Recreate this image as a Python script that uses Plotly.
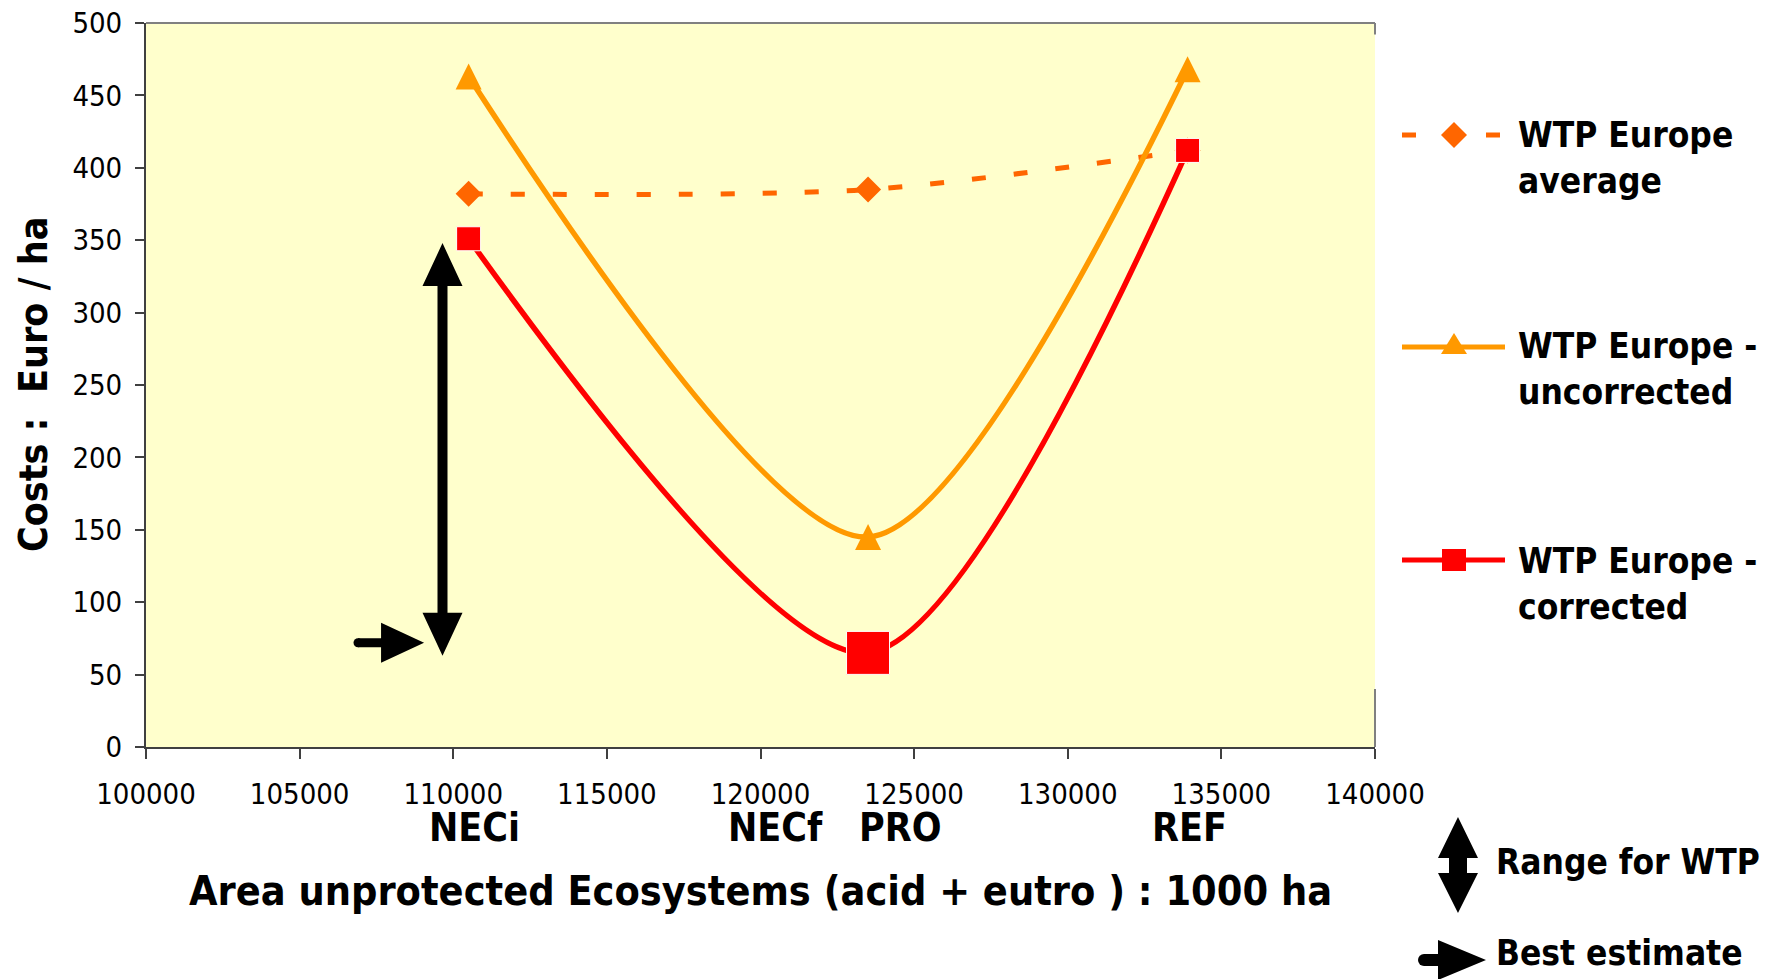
import plotly.graph_objects as go

# ---- data -------------------------------------------------------------
area_x = [110500, 123500, 133900]          # area unprotected ecosystems (1000 ha)
wtp_average = [382, 385, 412]              # Euro/ha
wtp_uncorrected = [463, 145, 468]
wtp_corrected = [351, 65, 412]
corrected_marker_size = [24, 43, 24]       # best estimate (PRO) drawn larger

scenario_names = ["NECi", "NECf", "PRO", "REF"]
scenario_label_x = [110700, 120500, 124550, 133950]

wtp_range = [63, 348]          # range for WTP (vertical double arrow)
range_arrow_x = 109650
best_estimate = 72             # best estimate (horizontal arrow)
best_estimate_x = [106900, 109050]

x_range = [100000, 140000]
y_range = [0, 500]
x_ticks = list(range(100000, 140001, 5000))
y_ticks = list(range(0, 501, 50))

# ---- layout geometry (pixels) ------------------------------------------
W, H = 1766, 979
PX0, PX1 = 146, 1375
PY0, PY1 = 23, 747

XS = (PX1 - PX0) / (x_range[1] - x_range[0])   # px per x unit
YS = (PY1 - PY0) / (y_range[1] - y_range[0])   # px per y unit


def px(x):
    return x / W


def py(y):
    return 1 - y / H


C_AVG = "#FF6600"
C_UNC = "#FF9900"
C_COR = "#FF0000"
TXT_BOLD = "DejaVu Sans Condensed, DejaVu Sans, sans-serif"
TXT_REG = "DejaVu Sans Condensed, DejaVu Sans, sans-serif"
SMOOTH = 0.8

fig = go.Figure()

fig.add_trace(go.Scatter(
    x=area_x, y=wtp_average, mode="lines+markers", name="WTP Europe average",
    line=dict(color=C_AVG, width=5, dash="14px,28px", shape="spline", smoothing=SMOOTH),
    marker=dict(symbol="diamond", size=20, color=C_AVG, opacity=1),
    cliponaxis=False,
))
fig.add_trace(go.Scatter(
    x=area_x, y=wtp_uncorrected, mode="lines+markers", name="WTP Europe - uncorrected",
    line=dict(color=C_UNC, width=5.5, shape="spline", smoothing=SMOOTH),
    marker=dict(symbol="arrow-down", angle=180, size=26, standoff=13, color=C_UNC, opacity=1),
    cliponaxis=False,
))
fig.add_trace(go.Scatter(
    x=area_x, y=wtp_corrected, mode="lines+markers", name="WTP Europe - corrected",
    line=dict(color=C_COR, width=5.5, shape="spline", smoothing=SMOOTH),
    marker=dict(symbol="square", size=corrected_marker_size, color=C_COR, opacity=1),
    cliponaxis=False,
))

shapes = []

# plot-area frame pieces
shapes.append(dict(type="line", xref="x domain", yref="y domain", x0=0, x1=1, y0=1, y1=1,
                   line=dict(color="#808080", width=2)))
shapes.append(dict(type="line", xref="x domain", yref="y", x0=1, x1=1, y0=0, y1=40,
                   line=dict(color="#808080", width=2)))
shapes.append(dict(type="line", xref="x domain", yref="y", x0=1, x1=1, y0=492, y1=500,
                   line=dict(color="#808080", width=2)))


def vdouble_arrow(xc, ybot, ytop, head_w, head_h, shaft_w):
    hw, sw = head_w / 2 / XS, shaft_w / 2 / XS
    hh = head_h / YS
    pts = [(xc, ytop), (xc + hw, ytop - hh), (xc + sw, ytop - hh), (xc + sw, ybot + hh),
           (xc + hw, ybot + hh), (xc, ybot), (xc - hw, ybot + hh), (xc - sw, ybot + hh),
           (xc - sw, ytop - hh), (xc - hw, ytop - hh)]
    return "M" + " L".join(f"{a:.2f},{b:.3f}" for a, b in pts) + " Z"


def h_arrow(x0, x1, yc, head_h, head_l, shaft_t):
    hl = head_l / XS
    hh, st = head_h / 2 / YS, shaft_t / 2 / YS
    pts = [(x0, yc + st), (x1 - hl, yc + st), (x1 - hl, yc + hh), (x1, yc),
           (x1 - hl, yc - hh), (x1 - hl, yc - st), (x0, yc - st)]
    return "M" + " L".join(f"{a:.2f},{b:.3f}" for a, b in pts) + " Z"


shapes.append(dict(type="path", xref="x", yref="y",
                   path=vdouble_arrow(range_arrow_x, wtp_range[0], wtp_range[1], 40, 43, 10),
                   fillcolor="black", line=dict(width=0)))
shapes.append(dict(type="path", xref="x", yref="y",
                   path=h_arrow(best_estimate_x[0], best_estimate_x[1], best_estimate, 40, 43, 9),
                   fillcolor="black", line=dict(width=0)))
r_cap = 4.5
shapes.append(dict(type="circle", xref="x", yref="y",
                   x0=best_estimate_x[0] - r_cap / XS, x1=best_estimate_x[0] + r_cap / XS,
                   y0=best_estimate - r_cap / YS, y1=best_estimate + r_cap / YS,
                   fillcolor="black", line=dict(width=0)))


# ---- legend (drawn in paper space) --------------------------------------
def ppath(points):
    return "M" + " L".join(f"{px(a):.5f},{py(b):.5f}" for a, b in points) + " Z"


legend_rows = [
    ("WTP Europe<br>average", C_AVG, "diamond", 135, 158),
    ("WTP Europe -<br>uncorrected", C_UNC, "triangle", 347, 369),
    ("WTP Europe -<br>corrected", C_COR, "square", 560, 584),
]
LX0, LX1, LMX, LTX = 1402, 1505, 1454, 1516
for label, color, sym, ly, ty in legend_rows:
    if sym == "diamond":
        shapes.append(dict(type="line", xref="paper", yref="paper", x0=px(LX0), x1=px(LX1),
                           y0=py(ly), y1=py(ly), line=dict(color=color, width=5, dash="14px,28px")))
        shapes.append(dict(type="path", xref="paper", yref="paper",
                           path=ppath([(LMX, ly - 13), (LMX + 13, ly), (LMX, ly + 13), (LMX - 13, ly)]),
                           fillcolor=color, line=dict(width=0)))
    else:
        shapes.append(dict(type="line", xref="paper", yref="paper", x0=px(LX0), x1=px(LX1),
                           y0=py(ly), y1=py(ly), line=dict(color=color, width=5)))
        if sym == "triangle":
            pts = [(LMX, ly - 14), (LMX + 13, ly + 7), (LMX - 13, ly + 7)]
        else:
            pts = [(LMX - 12, ly - 11), (LMX + 12, ly - 11), (LMX + 12, ly + 11), (LMX - 12, ly + 11)]
        shapes.append(dict(type="path", xref="paper", yref="paper", path=ppath(pts),
                           fillcolor=color, line=dict(width=0)))

# range / best-estimate keys
kx, ky0, ky1 = 1458, 817, 913
shapes.append(dict(type="path", xref="paper", yref="paper", fillcolor="black", line=dict(width=0),
                   path=ppath([(kx, ky0), (kx + 20, ky0 + 41), (kx + 9, ky0 + 41), (kx + 9, ky1 - 40),
                               (kx + 20, ky1 - 40), (kx, ky1), (kx - 20, ky1 - 40), (kx - 9, ky1 - 40),
                               (kx - 9, ky0 + 41), (kx - 20, ky0 + 41)])))
by = 960
shapes.append(dict(type="path", xref="paper", yref="paper", fillcolor="black", line=dict(width=0),
                   path=ppath([(1424, by - 6), (1438, by - 6), (1438, by - 20), (1486, by),
                               (1438, by + 20), (1438, by + 6), (1424, by + 6)])))
shapes.append(dict(type="circle", xref="paper", yref="paper", fillcolor="black", line=dict(width=0),
                   x0=px(1418), x1=px(1430), y0=py(966), y1=py(954)))

annotations = []
for label, color, sym, ly, ty in legend_rows:
    annotations.append(dict(text=f"<b>{label}</b>", xref="paper", yref="paper", x=px(LTX), y=py(ty),
                            xanchor="left", yanchor="middle", align="left", showarrow=False,
                            font=dict(family=TXT_BOLD, size=35, color="black")))
annotations.append(dict(text="<b>Range for WTP</b>", xref="paper", yref="paper", x=px(1494), y=py(862),
                        xanchor="left", yanchor="middle", showarrow=False,
                        font=dict(family=TXT_BOLD, size=35, color="black")))
annotations.append(dict(text="<b>Best estimate</b>", xref="paper", yref="paper", x=px(1494), y=py(953),
                        xanchor="left", yanchor="middle", showarrow=False,
                        font=dict(family=TXT_BOLD, size=35, color="black")))

# scenario labels under the x axis
for name, xv in zip(scenario_names, scenario_label_x):
    annotations.append(dict(text=f"<b>{name}</b>", xref="x", yref="paper", x=xv, y=py(827),
                            xanchor="center", yanchor="middle", showarrow=False,
                            font=dict(family=TXT_BOLD, size=39, color="black")))

# axis titles
annotations.append(dict(text="<b>Area unprotected Ecosystems (acid + eutro ) : 1000 ha</b>",
                        xref="paper", yref="paper", x=px((PX0 + PX1) / 2), y=py(891),
                        xanchor="center", yanchor="middle", showarrow=False,
                        font=dict(family=TXT_BOLD, size=41, color="black")))
annotations.append(dict(text="<b>Costs :  Euro / ha</b>", xref="paper", yref="paper",
                        x=px(33), y=py(385), textangle=-90, xanchor="center", yanchor="middle",
                        showarrow=False, font=dict(family=TXT_BOLD, size=39, color="black")))

fig.update_layout(
    width=W, height=H, autosize=False,
    margin=dict(l=0, r=0, t=0, b=0),
    paper_bgcolor="white", plot_bgcolor="#FFFFCC",
    showlegend=False,
    shapes=shapes, annotations=annotations,
    xaxis=dict(domain=[PX0 / W, PX1 / W], range=x_range, tickvals=x_ticks,
               ticktext=[str(t) for t in x_ticks], showgrid=False, zeroline=False,
               showline=True, linecolor="#404040", linewidth=2,
               ticks="outside", ticklen=10, tickwidth=2, tickcolor="#404040",
               ticklabelstandoff=10, automargin=False,
               tickfont=dict(family=TXT_REG, size=29, color="black")),
    yaxis=dict(domain=[1 - PY1 / H, 1 - PY0 / H], range=y_range, tickvals=y_ticks,
               showgrid=False, zeroline=False,
               showline=True, linecolor="#404040", linewidth=2,
               ticks="outside", ticklen=9, tickwidth=2, tickcolor="#404040",
               ticklabelstandoff=7, automargin=False,
               tickfont=dict(family=TXT_REG, size=29, color="black")),
)

fig.write_html("out.html")
